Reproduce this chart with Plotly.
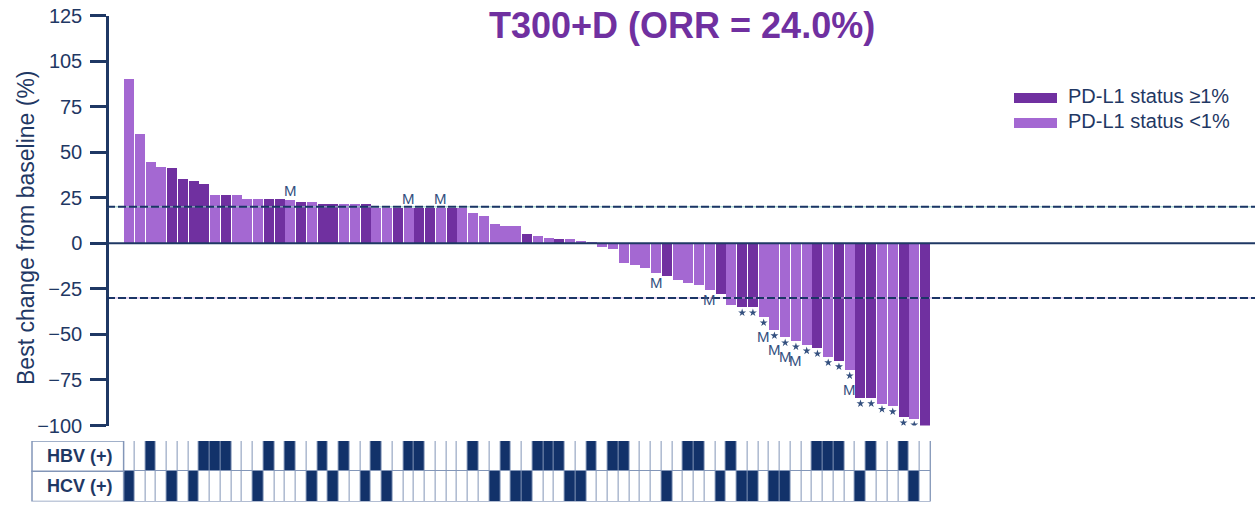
import plotly.graph_objects as go

# ---------------- data ----------------
values = [90.7, 60.5, 44.7, 42.0, 41.5, 35.3, 34.7, 32.6, 26.6, 26.6,
          26.6, 24.4, 24.4, 24.4, 24.4, 23.8, 22.7, 22.7, 22.1, 21.6,
          21.6, 21.6, 21.6, 19.9, 19.8, 19.8, 19.8, 19.8, 19.8, 19.8,
          19.8, 19.8, 16.8, 15.0, 10.6, 10.0, 9.5, 5.1, 4.0, 2.9,
          2.4, 2.4, 1.8, 0.6, -1.5, -3.1, -10.3, -11.9, -13.5, -16.1,
          -17.8, -20.0, -21.6, -22.7, -25.5, -27.7, -33.7, -34.8, -34.8, -40.3,
          -47.4, -51.3, -53.5, -55.7, -57.3, -62.2, -64.4, -69.4, -84.7, -84.7,
          -87.8, -89.1, -95.2, -96.3, -100.0]
# 1 = PD-L1 status >=1% (dark), 0 = PD-L1 status <1% (light)
pdl1_high = [0, 0, 0, 0, 1, 1, 1, 1, 0, 1,
             0, 0, 0, 1, 1, 0, 1, 0, 1, 1,
             0, 0, 1, 0, 0, 1, 0, 1, 1, 0,
             1, 0, 0, 0, 0, 0, 0, 1, 0, 0,
             1, 0, 0, 0, 0, 0, 0, 0, 0, 0,
             1, 0, 0, 0, 0, 1, 0, 1, 1, 0,
             0, 0, 0, 0, 1, 0, 1, 0, 1, 1,
             0, 0, 1, 0, 1]
hbv_pos = [2, 7, 8, 9, 13, 15, 18, 20, 23, 26, 27, 32, 35, 38, 39, 40, 43,
           45, 46, 52, 53, 56, 64, 65, 66, 69, 72]
hcv_pos = [0, 4, 6, 12, 17, 19, 22, 24, 34, 36, 37, 41, 42, 50, 55, 57, 58,
           60, 61, 68, 73]
m_above = [15, 26, 29]
m_below = [49, 54]
star_bars = list(range(57, 75))
m_below_star = [59, 60, 61, 62, 67]

tick_vals = [-100, -75, -50, -25, 0, 25, 50, 75, 100, 125]
tick_text = ["\u2212100", "\u221275", "\u221250", "\u221225", "0", "25", "50", "75", "105", "125"]
ref_lines = [20, -30]
title_text = "T300+D (ORR = 24.0%)"
ytitle = "Best change from baseline (%)"
legend_labels = ["PD-L1 status \u22651%", "PD-L1 status <1%"]
row_labels = ["HBV (+)", "HCV (+)"]

# ---------------- style / layout constants ----------------
W, H = 1255, 505
DARK = "#7030A0"
LIGHT = "#A468D2"
NAVY = "#1F3864"
CELL = "#12326A"
BORDER = "#8396B8"
MARK = "#34507F"
FONT = "Liberation Sans, Arial, sans-serif"

pitch = 10.757      # px per bar slot
c0 = 129.0          # px centre of first bar
xr = [-c0 / pitch, (W - c0) / pitch]
y_top_px, y_bot_px = 15.5, 425.5
ydom = [(H - y_bot_px) / H, (H - y_top_px) / H]
px_per_unit = (y_bot_px - y_top_px) / 225.0
axis_px = 107
grid_top_px, grid_bot_px = 441, 501.5

n = len(values)
idx = list(range(n))
hbv = [1 if i in hbv_pos else 0 for i in idx]
hcv = [1 if i in hcv_pos else 0 for i in idx]

fig = go.Figure()
fig.add_trace(go.Bar(
    x=[i for i in idx if pdl1_high[i] == 1],
    y=[values[i] for i in idx if pdl1_high[i] == 1],
    marker=dict(color=DARK, line=dict(width=0)), width=0.93,
    name=legend_labels[0], showlegend=False, hoverinfo="skip"))
fig.add_trace(go.Bar(
    x=[i for i in idx if pdl1_high[i] == 0],
    y=[values[i] for i in idx if pdl1_high[i] == 0],
    marker=dict(color=LIGHT, line=dict(width=0)), width=0.93,
    name=legend_labels[1], showlegend=False, hoverinfo="skip"))

# stars under responders
fig.add_trace(go.Scatter(
    x=star_bars, y=[values[i] - 6.0 / px_per_unit for i in star_bars],
    mode="markers", marker=dict(symbol="star", size=6, color=MARK),
    showlegend=False, hoverinfo="skip"))

# HBV / HCV grid
fig.add_trace(go.Heatmap(
    x=idx, y=[0, 1], z=[hcv, hbv], xaxis="x", yaxis="y2",
    colorscale=[[0, "white"], [1, CELL]], zmin=0, zmax=1,
    showscale=False, xgap=1, ygap=1, hoverinfo="skip"))

shapes = []
shapes.append(dict(type="rect", xref="x", yref="y2", x0=-0.5, x1=n - 0.5,
                   y0=-0.5, y1=1.5, fillcolor=BORDER,
                   line=dict(color=BORDER, width=1), layer="below"))
for r in range(2):
    shapes.append(dict(type="rect", xref="paper", yref="y2",
                       x0=32 / W, x1=(c0 - pitch / 2) / W,
                       y0=r - 0.5, y1=r + 0.5, fillcolor="white",
                       line=dict(color=BORDER, width=1.5), layer="above"))
for val, under in zip(ref_lines, ["#8FCFC0", "#C9A9E3"]):
    shapes.append(dict(type="line", xref="paper", yref="y", x0=axis_px / W, x1=1,
                       y0=val, y1=val, line=dict(color=under, width=1), layer="above"))
    shapes.append(dict(type="line", xref="paper", yref="y", x0=axis_px / W, x1=1,
                       y0=val, y1=val, line=dict(color="#1B3566", width=2, dash="8px,3px"),
                       layer="above"))
shapes.append(dict(type="line", xref="paper", yref="y", x0=91 / W, x1=1,
                   y0=0, y1=0, line=dict(color=NAVY, width=2), layer="above"))
for k, (col, yc) in enumerate([(DARK, 98), (LIGHT, 123)]):
    shapes.append(dict(type="rect", xref="paper", yref="paper",
                       x0=1014 / W, x1=1057 / W, y0=(H - yc - 5) / H, y1=(H - yc + 5) / H,
                       fillcolor=col, line=dict(width=0)))

annotations = []
annotations.append(dict(text="<b>%s</b>" % title_text, xref="paper", yref="paper",
                        x=682 / W, y=(H - 25) / H, xanchor="center", yanchor="middle",
                        showarrow=False, font=dict(size=36, color=DARK, family=FONT)))
annotations.append(dict(text=ytitle, xref="paper", yref="paper", x=26 / W,
                        y=(H - 228) / H, textangle=-90, xanchor="center", yanchor="middle",
                        showarrow=False, font=dict(size=23, color=NAVY, family=FONT)))
for lab, yc in zip(legend_labels, [96, 121]):
    annotations.append(dict(text=lab, xref="paper", yref="paper", x=1066 / W,
                            y=(H - yc) / H, xanchor="left", yanchor="middle",
                            showarrow=False, font=dict(size=20, color=NAVY, family=FONT)))
for lab, r in zip(row_labels, [1, 0]):
    annotations.append(dict(text="<b>%s</b>" % lab, xref="paper", yref="y2", x=80 / W,
                            y=r, xanchor="center", yanchor="middle", showarrow=False,
                            font=dict(size=18, color=NAVY, family=FONT)))
mfont = dict(size=15, color=MARK, family=FONT)
for i in m_above:
    annotations.append(dict(text="M", x=i, y=values[i], xref="x", yref="y", yshift=9,
                            yanchor="middle", showarrow=False, font=mfont))
for i in m_below:
    annotations.append(dict(text="M", x=i, y=values[i], xref="x", yref="y", yshift=-10,
                            yanchor="middle", showarrow=False, font=mfont))
for i in m_below_star:
    annotations.append(dict(text="M", x=i, y=values[i], xref="x", yref="y", yshift=-20,
                            yanchor="middle", showarrow=False, font=mfont))

fig.update_layout(
    width=W, height=H, margin=dict(l=0, r=0, t=0, b=0),
    paper_bgcolor="white", plot_bgcolor="white",
    barmode="overlay", bargap=0,
    xaxis=dict(domain=[0, 1], range=xr, visible=False, fixedrange=True),
    yaxis=dict(domain=ydom, range=[-100, 125], anchor="free", position=axis_px / W,
               showgrid=False, zeroline=False, showline=True, linecolor=NAVY,
               linewidth=2.5, ticks="outside", ticklen=16, tickwidth=2.5, tickcolor=NAVY,
               tickvals=tick_vals, ticktext=tick_text, ticklabelstandoff=4,
               tickfont=dict(size=20, color=NAVY, family=FONT), automargin=False),
    yaxis2=dict(domain=[(H - grid_bot_px) / H, (H - grid_top_px) / H], range=[-0.5, 1.5],
                anchor="x", visible=False),
    shapes=shapes, annotations=annotations, showlegend=False,
)
fig.write_html("out.html")
